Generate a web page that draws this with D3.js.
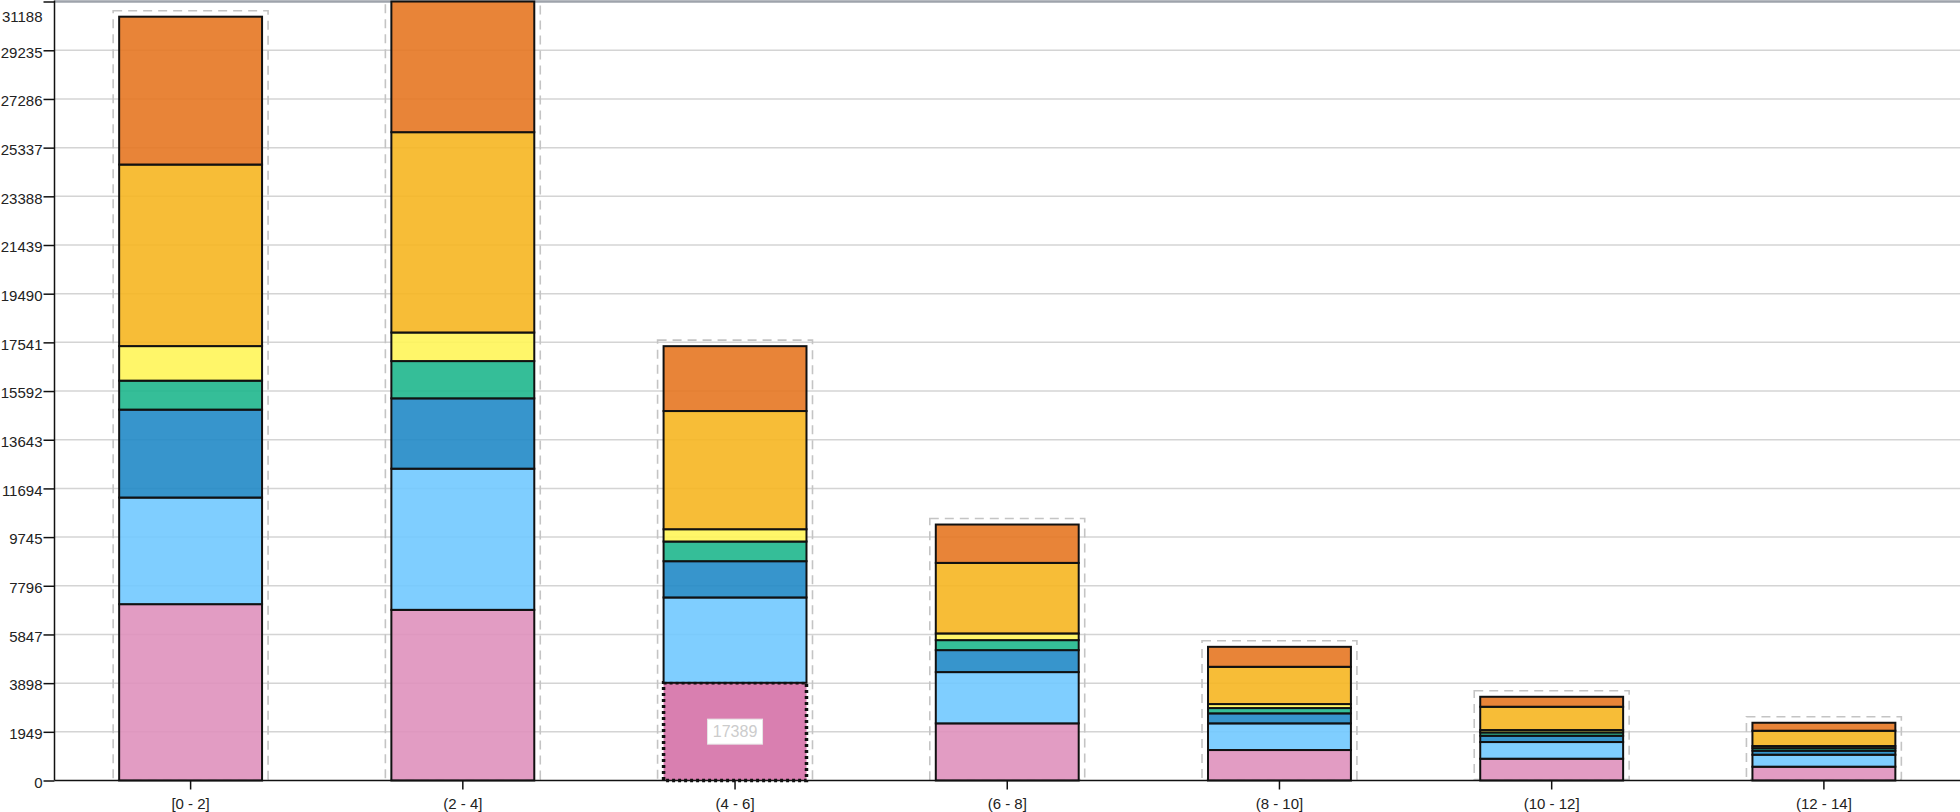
<!DOCTYPE html>
<html>
<head>
<meta charset="utf-8">
<script src="https://cdn.jsdelivr.net/npm/d3@7"></script>
<style>
  html, body { margin: 0; padding: 0; background: #fff; }
  svg { display: block; font-family: "Liberation Sans", Arial, sans-serif; }
</style>
</head>
<body>
<svg id="chart" width="1960" height="812"></svg>
<script>
// ---- data ----
const categories = ["[0 - 2]", "(2 - 4]", "(4 - 6]", "(6 - 8]", "(8 - 10]", "(10 - 12]", "(12 - 14]"];
const seriesKeys = ["s1", "s2", "s3", "s4", "s5", "s6", "s7"];
const s1Values = [7060, 6832, 3912, 2288, 1220, 872, 552];   // pink
const s2Values = [4268, 5652, 3416, 2052, 1068, 668, 480];   // light blue
const s3Values = [3520, 2816, 1452, 880, 400, 252, 160];     // blue
const s4Values = [1160, 1492, 788, 400, 212, 132, 104];      // teal
const s5Values = [1384, 1144, 492, 268, 160, 96, 84];        // light yellow
const s6Values = [7268, 8020, 4732, 2824, 1492, 932, 612];   // yellow-orange
const s7Values = [5920, 5232, 2597, 1536, 800, 400, 320];    // orange
const tickLabels = ["0", "1949", "3898", "5847", "7796", "9745", "11694", "13643", "15592",
  "17541", "19490", "21439", "23388", "25337", "27286", "29235", "31188"];
const highlightCategory = "(4 - 6]";
const highlightSeries = "s1";

(function () {
// ---- build table ----
const seriesValues = [s1Values, s2Values, s3Values, s4Values, s5Values, s6Values, s7Values];
const table = categories.map((c, i) => {
  const row = { category: c };
  seriesKeys.forEach((k, j) => row[k] = seriesValues[j][i]);
  row.total = d3.sum(seriesKeys, k => row[k]);
  return row;
});
const yMax = d3.max(table, d => d.total);
const tickValues = tickLabels.map(Number);

const colors = {
  s1: "#df91bd", s2: "#71c9ff", s3: "#218ac7", s4: "#1fb78d",
  s5: "#fff559", s6: "#f6b621", s7: "#e67722"
};
const highlightColor = "#d97fb0";

// ---- layout ----
const svg = d3.select("#chart");
const mLeft = 54.5, mRight = 1960, mTop = 1.5, mBottom = 780.5;

const x = d3.scaleBand().domain(categories).range([mLeft, mRight])
  .paddingInner(0.475).paddingOuter(0.2375);
const y = d3.scaleLinear().domain([0, yMax]).range([mBottom, mTop]);

// gridlines
svg.append("g").selectAll("line").data(tickValues.slice(1)).join("line")
  .attr("x1", mLeft).attr("x2", mRight)
  .attr("y1", d => y(d)).attr("y2", d => y(d))
  .attr("stroke", (d, i, a) => i === a.length - 1 ? "#9ea3ab" : "#d4d4d4")
  .attr("stroke-width", (d, i, a) => i === a.length - 1 ? 2.5 : 1.5);

// dashed outline boxes
const pad = 6;
svg.append("g").selectAll("rect").data(table).join("rect")
  .attr("x", d => x(d.category) - pad)
  .attr("y", d => y(d.total) - pad)
  .attr("width", x.bandwidth() + 2 * pad)
  .attr("height", d => y(0) - y(d.total) + pad - 1)
  .attr("fill", "none")
  .attr("stroke", "#c4c4c4")
  .attr("stroke-width", 1.6)
  .attr("stroke-dasharray", "9,6");

const isHi = o => o.key === highlightSeries && o.d.data.category === highlightCategory;

// stacked bars
const stacked = d3.stack().keys(seriesKeys)(table);
const layers = svg.append("g").selectAll("g").data(stacked).join("g");
layers.selectAll("rect").data(s => s.map(d => ({ key: s.key, d }))).join("rect")
  .attr("x", o => x(o.d.data.category))
  .attr("y", o => y(o.d[1]))
  .attr("width", x.bandwidth())
  .attr("height", o => y(o.d[0]) - y(o.d[1]))
  .attr("fill", o => isHi(o) ? highlightColor : colors[o.key])
  .attr("fill-opacity", o => isHi(o) ? 1 : 0.9)
  .attr("stroke", "#111")
  .attr("stroke-width", o => isHi(o) ? 3.5 : 2)
  .attr("stroke-dasharray", o => isHi(o) ? "3,3" : null);

// highlight label (bar total)
const hRow = table.find(r => r.category === highlightCategory);
const hLayer = stacked.find(s => s.key === highlightSeries);
const hSeg = hLayer[categories.indexOf(highlightCategory)];
const cx = x(highlightCategory) + x.bandwidth() / 2;
const cy = (y(hSeg[0]) + y(hSeg[1])) / 2;
const lbl = svg.append("g").attr("transform", `translate(${cx},${cy})`);
lbl.append("rect").attr("x", -27.5).attr("y", -12.5).attr("width", 55).attr("height", 25)
  .attr("fill", "#fff").attr("stroke", "#e6e6e6").attr("stroke-width", 1);
lbl.append("text").attr("text-anchor", "middle").attr("dy", "0.36em")
  .attr("font-size", 16).attr("fill", "#cccccc").text(hRow.total);

// y axis
const yAxis = svg.append("g").attr("transform", `translate(${mLeft},0)`)
  .call(d3.axisLeft(y).tickValues(tickValues).tickSize(11).tickPadding(1)
    .tickFormat((d, i) => tickLabels[i]));
yAxis.select(".domain").attr("stroke", "#111").attr("stroke-width", 1.5)
  .attr("d", `M0,${mTop - 1}V${mBottom}`);
yAxis.selectAll(".tick line").attr("stroke", "#111").attr("stroke-width", 1.5);
yAxis.selectAll(".tick text")
  .attr("font-size", 15).attr("fill", "#222")
  .attr("font-family", "Liberation Sans, Arial, sans-serif")
  .attr("dy", (d, i) => i === tickValues.length - 1 ? "1.35em" : "0.45em");

// x axis
const xAxis = svg.append("g").attr("transform", `translate(0,${mBottom})`)
  .call(d3.axisBottom(x).tickSize(9).tickPadding(9));
xAxis.select(".domain").attr("stroke", "#111").attr("stroke-width", 1.5)
  .attr("d", `M${mLeft},0H${mRight}`);
xAxis.selectAll(".tick line").attr("stroke", "#111").attr("stroke-width", 1.5);
xAxis.selectAll(".tick text")
  .attr("font-size", 15).attr("fill", "#222")
  .attr("font-family", "Liberation Sans, Arial, sans-serif");
})();
</script>
</body>
</html>
